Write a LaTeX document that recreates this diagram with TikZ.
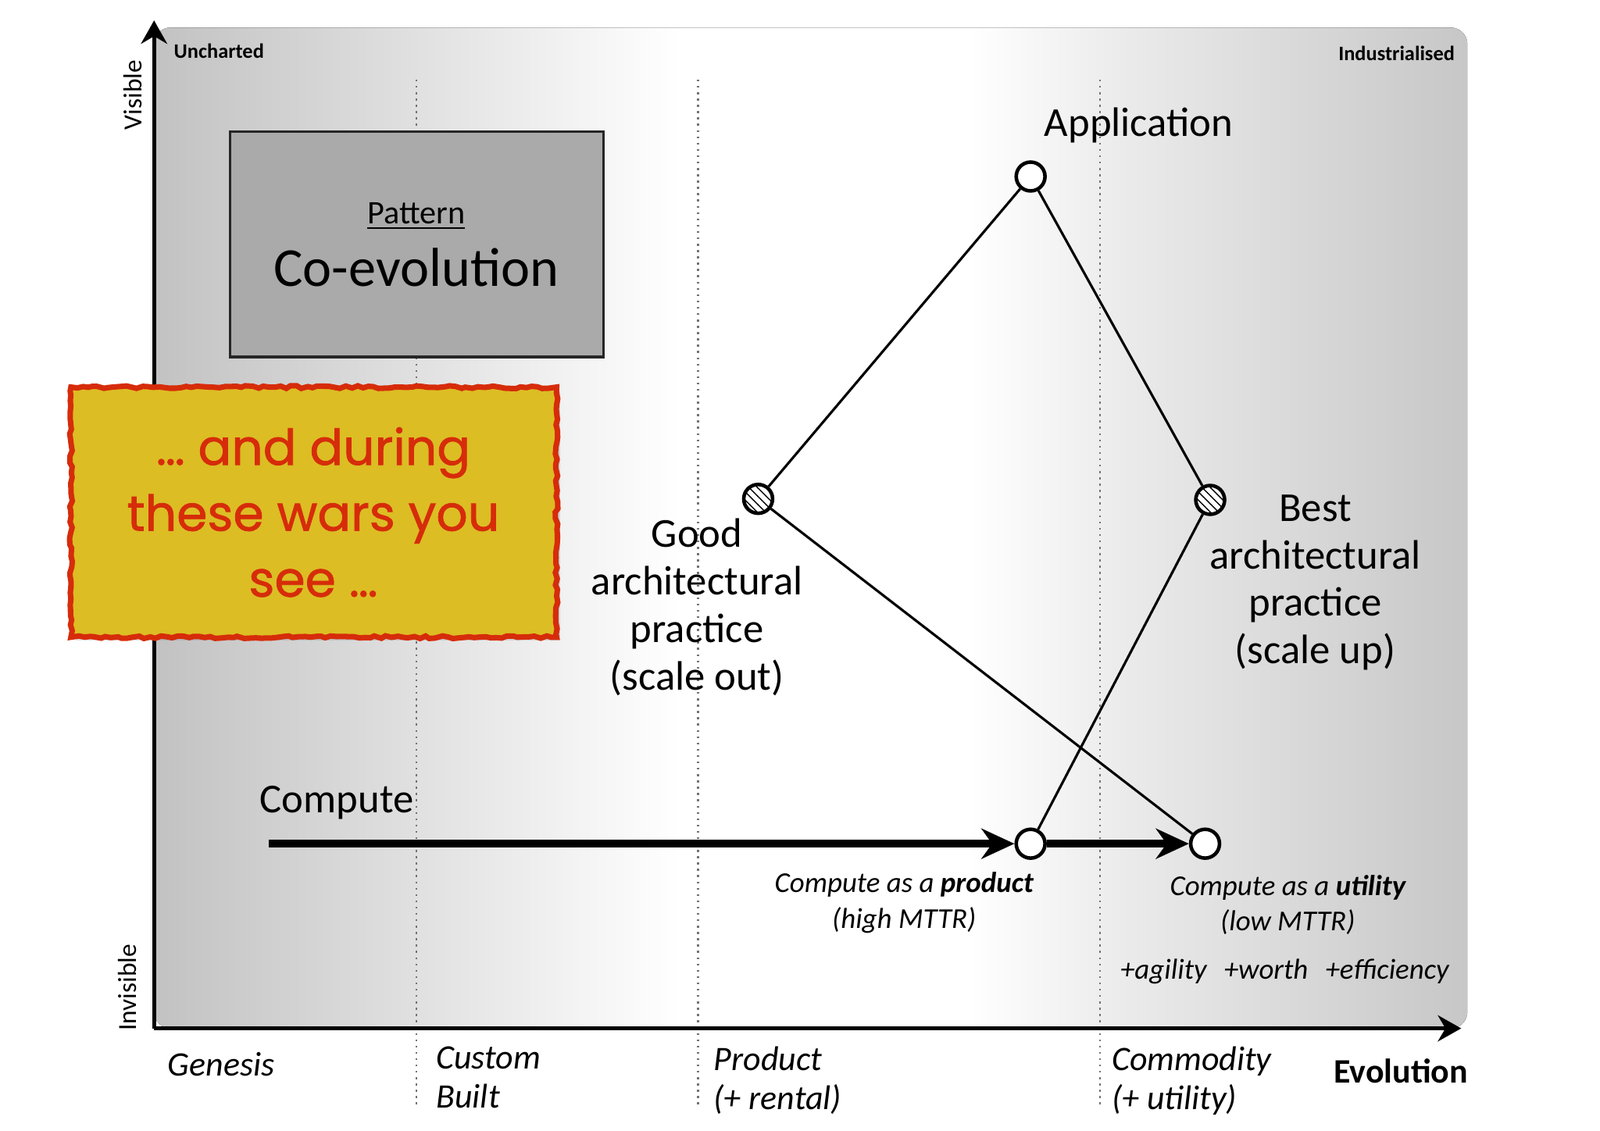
\documentclass[tikz,border=0pt]{standalone}
\usepackage{fontspec}
\setmainfont{Carlito}
\newfontfamily\warfont[FakeBold=1.2]{Poppins}
\usetikzlibrary{arrows.meta,patterns,shadows,decorations.pathmorphing,positioning}

\definecolor{warred}{RGB}{214,44,10}
\definecolor{waryellow}{RGB}{220,189,36}
\definecolor{patterngray}{RGB}{170,170,170}

\pgfdeclarehorizontalshading{evoshade}{100bp}{color(0bp)=(black!24); color(25bp)=(black!24);
  color(35bp)=(black!12); color(45bp)=(white); color(56bp)=(white);
  color(62bp)=(black!8); color(75bp)=(black!22); color(100bp)=(black!22)}

\tikzset{
  axisline/.style={line width=1.5pt, -{Stealth[length=8.5pt,width=9.5pt]}},
  stageline/.style={black!55, line width=0.7pt, dash pattern=on 0.7pt off 1.6pt},
  linkline/.style={line width=0.9pt},
  evoarrow/.style={line width=3pt, -{Stealth[length=12pt,width=11pt]}},
  dotnode/.style={circle, draw, line width=1.3pt, fill=white, inner sep=0pt, minimum size=10.5pt},
  hatchnode/.style={dotnode, preaction={fill=white}, pattern=north west lines},
  maplabel/.style={font=\fontsize{15pt}{17.3pt}\selectfont, align=center, inner sep=0pt},
  notelabel/.style={font=\fontsize{10.5pt}{13pt}\selectfont\itshape, align=center, inner sep=0pt},
  stagelabel/.style={font=\fontsize{12.5pt}{14.5pt}\selectfont\itshape, align=left, inner sep=0pt},
  tinylabel/.style={font=\fontsize{9.5pt}{11pt}\selectfont, inner sep=0pt},
  cornerlabel/.style={font=\fontsize{7.5pt}{9pt}\selectfont\bfseries, inner sep=0pt},
  patternbox/.style={draw=black!85, line width=1pt, fill=patterngray, inner sep=0pt,
    minimum width=136pt, minimum height=82pt},
  warbox/.style={fill=waryellow, inner sep=0pt, minimum width=176.5pt, minimum height=90.7pt,
    drop shadow={opacity=0.25, shadow xshift=1.5pt, shadow yshift=-1.5pt}},
  warborder/.style={draw=warred, line width=2pt, decorate,
    decoration={random steps, segment length=2pt, amplitude=0.5pt}},
  wartext/.style={font=\warfont\fontsize{18pt}{24pt}\selectfont, text=warred, align=center, inner sep=0pt}
}

\begin{document}
\begin{tikzpicture}[x=0.013061cm, y=-0.013061cm]
  \useasboundingbox (0,0) rectangle (1568,1108);

  % draw the background of the map
  \fill[shading=evoshade, rounded corners=6pt] (151,27) rectangle (1438,1008);

  % draw the dotted stage lines
  \foreach \sx in {408,684,1078}
    \draw[stageline] (\sx,78) -- (\sx,1085);

  % draw the axes
  \coordinate (origin) at (151,1008);
  \coordinate (ytop) at (151,20);
  \coordinate (xend) at (1432,1008);
  \draw[axisline] (origin) -- (ytop);
  \draw[axisline] (origin) -- (xend);

  % label the axes
  \node[tinylabel, rotate=90] (visible) at (130,93) {Visible};
  \node[tinylabel, rotate=90] (invisible) at (125,968) {Invisible};
  \node[cornerlabel, anchor=west] (uncharted) at (170,50) {Uncharted};
  \node[cornerlabel, anchor=east] (industrialised) at (1426,52) {Industrialised};
  \node[stagelabel, anchor=west] (genesis) at (164,1043) {Genesis};
  \node[stagelabel, anchor=north west] (custom) at (427,1025) {Custom\\Built};
  \node[stagelabel, anchor=north west] (product) at (699,1025) {Product\\(+ rental)};
  \node[stagelabel, anchor=north west] (commodity) at (1089,1025) {Commodity\\(+ utility)};
  \node[font=\fontsize{12.5pt}{14pt}\selectfont\bfseries, inner sep=0pt] (evolution) at (1373,1050) {Evolution};

  % the pattern box
  \node[patternbox] (pattern) at (408.5,239.5) {};
  \node[font=\fontsize{12pt}{14pt}\selectfont, inner sep=0pt] (patterntitle) at (408,212) {\underline{Pattern}};
  \node[font=\fontsize{20pt}{24pt}\selectfont, inner sep=0pt] (coevolution) at (408,262) {Co-evolution};

  % the yellow note
  \node[warbox] (war) at (307.5,502) {};
  \draw[warborder] (war.south west) rectangle (war.north east);
  \node[wartext] (wartext) at (307,502) {… and during\\these wars you\\see …};

  % draw the links
  \node[dotnode] (app) at (1010,173) {};
  \node[hatchnode] (good) at (743,489) {};
  \node[hatchnode] (best) at (1186,490) {};
  \node[dotnode] (prod) at (1010,827) {};
  \node[dotnode] (util) at (1181,827) {};
  \draw[linkline] (app) -- (good);
  \draw[linkline] (app) -- (best);
  \draw[linkline] (good) -- (util);
  \draw[linkline] (best) -- (prod);

  % the compute evolution
  \coordinate (cstart) at (263,827);
  \draw[evoarrow] (cstart) -- (prod);
  \draw[evoarrow] (prod) -- (util);

  % label the points
  \node[maplabel] (applabel) at (1116,123) {Application};
  \node[maplabel] (goodlabel) at (683,595) {Good\\architectural\\practice\\(scale out)};
  \node[maplabel] (bestlabel) at (1289,571) {Best\\architectural\\practice\\(scale up)};
  \node[maplabel] (computelabel) at (330,787) {Compute};
  \node[notelabel] (prodlabel) at (886,885) {Compute as a \textbf{product}\\(high MTTR)};
  \node[notelabel] (utillabel) at (1262,887) {Compute as a \textbf{utility}\\(low MTTR)};
  \node[notelabel] (gains) at (1259,952) {+agility\hspace{0.6em}+worth\hspace{0.6em}+efficiency};
\end{tikzpicture}
\end{document}
